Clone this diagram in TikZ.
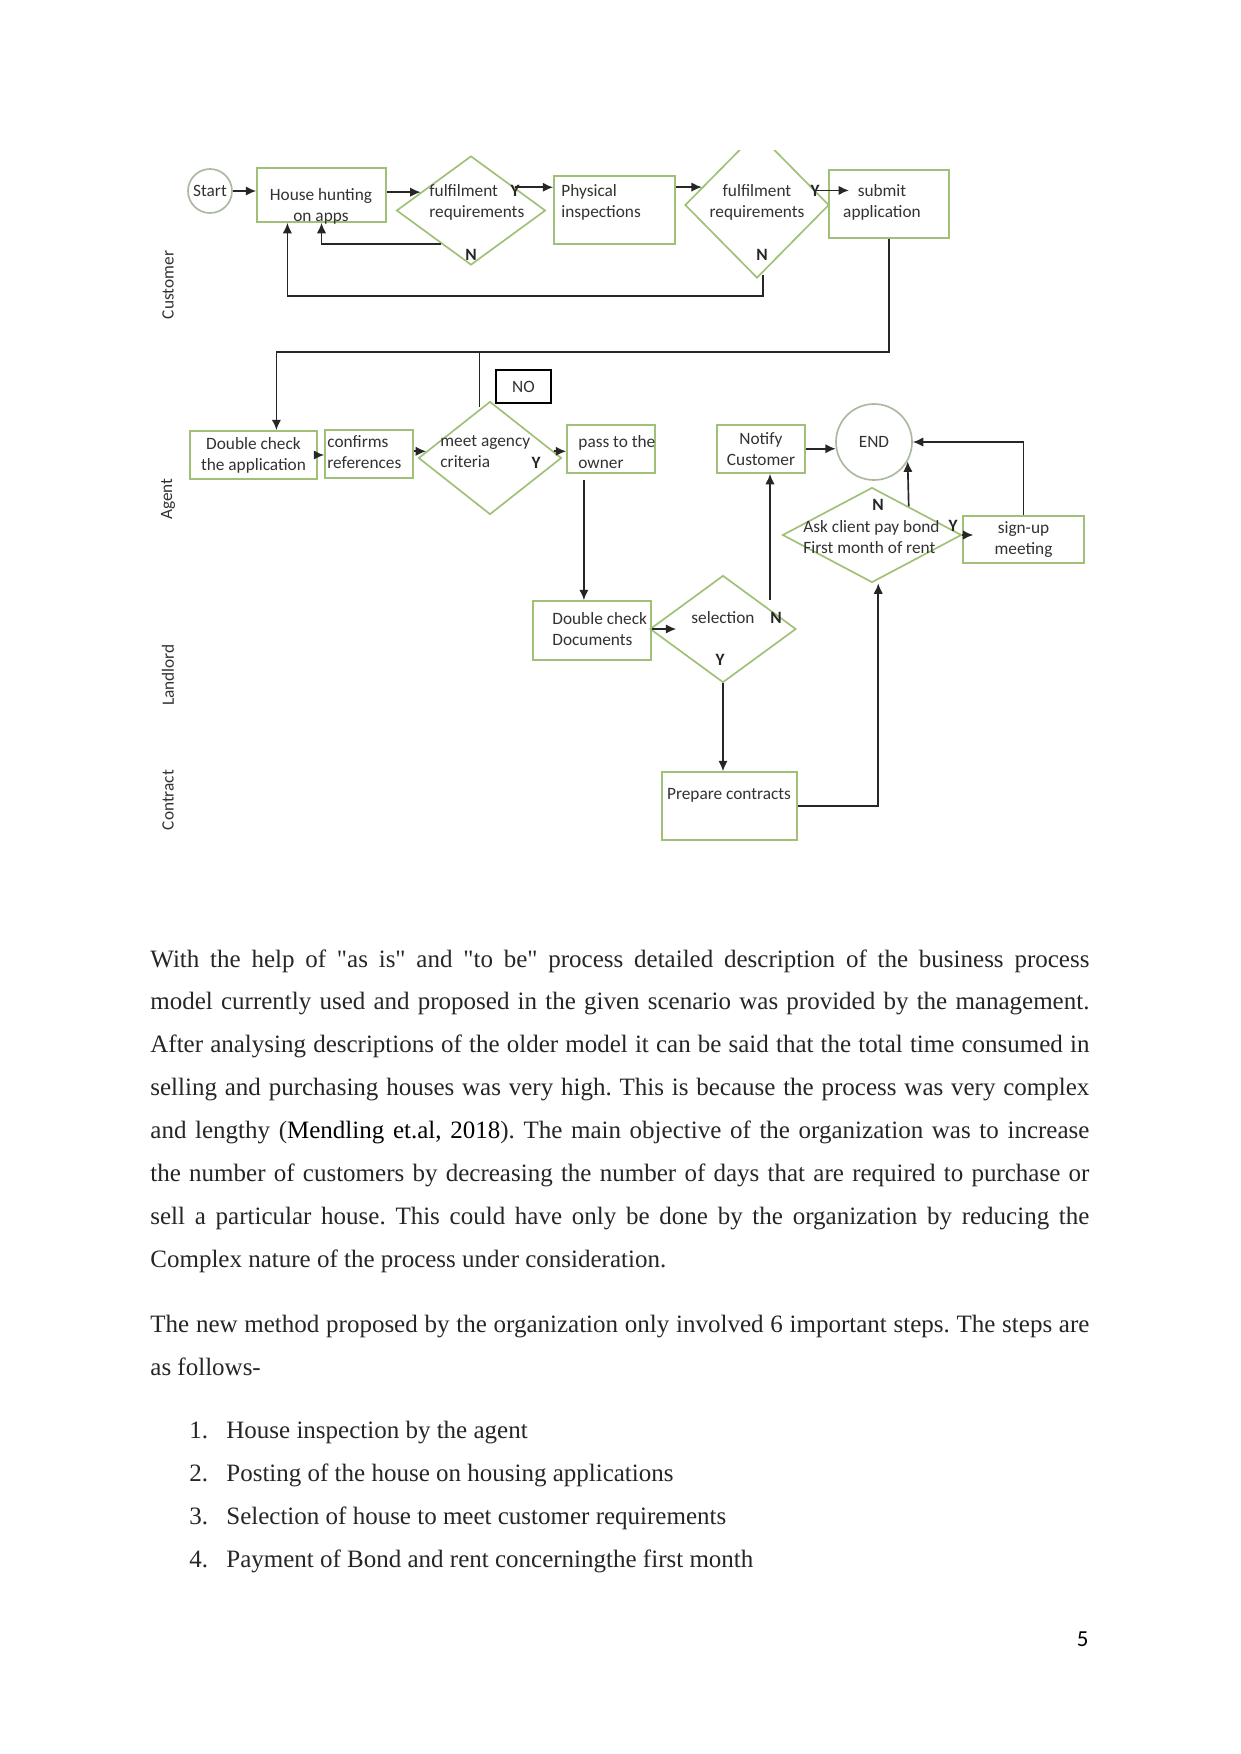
\documentclass[tikz,border=0pt]{standalone}
\usepackage{fontspec}
\setmainfont{Liberation Serif}
\newfontfamily\diagfont{Carlito}
\usetikzlibrary{shapes.geometric,arrows.meta}
\definecolor{boxgreen}{RGB}{160,192,120}
\definecolor{ringgray}{RGB}{170,185,160}
\definecolor{labelgray}{RGB}{50,50,50}
\newlength{\pxl}
\setlength{\pxl}{0.48pt}
\frenchspacing

\begin{document}
\begin{tikzpicture}[x=0.48pt, y=-0.48pt,
  txt/.style={font=\diagfont\fontsize{8.3}{10}\selectfont, text=labelgray, inner sep=0, align=center},
  yn/.style={font=\diagfont\bfseries\fontsize{8.3}{10}\selectfont, text=black!85, inner sep=0},
  pbox/.style 2 args={draw=boxgreen, line width=0.8pt, inner sep=0, minimum width=#1\pxl, minimum height=#2\pxl, txt},
  dec/.style 2 args={diamond, draw=boxgreen, line width=0.8pt, inner sep=0, minimum width=#1\pxl, minimum height=#2\pxl},
  ring/.style={circle, draw=ringgray, line width=0.8pt, inner sep=0, minimum size=#1\pxl, txt},
  lane/.style={txt, rotate=90},
  arr/.style={-{Latex[length=5pt,width=4.5pt]}, line width=0.8pt, black!85},
  bodytext/.style={font=\fontsize{12}{20.6}\selectfont, text=black!85, inner sep=0}]
  \fill[white] (0,0) rectangle (1241,1754);
  \useasboundingbox (0,0) rectangle (1241,1754);

  \node[lane] (lcust) at (168,285) {Customer};
  \node[lane] (lagent) at (168,499) {Agent};
  \node[lane] (lland) at (168,675) {Landlord};
  \node[lane] (lcontr) at (168,800) {Contract};

  \node[ring=44] (start) at (210,191) {Start};
  \node[pbox={129}{54}] (hunt) at (321.5,195) {};
  \node[txt] (huntt) at (321,206) {House hunting\\on apps};
  \node[dec={149}{109}] (d1) at (471,210.5) {};
  \node[txt, align=left, anchor=west] (d1t) at (429,202) {fulfilment\\requirements};
  \node[yn] (d1y) at (515,191) {Y};
  \node[yn] (d1n) at (471,255) {N};
  \node[pbox={121}{68}] (phys) at (614.5,210) {};
  \node[txt, align=left, anchor=west] (physt) at (561,202) {Physical\\inspections};
  \begin{scope}
    \clip (600,150) rectangle (900,300);
    \node[dec={144}{146}] (d2) at (757,205) {};
  \end{scope}
  \node[txt] (d2t) at (757,202) {fulfilment\\requirements};
  \node[yn] (d2y) at (815,191) {Y};
  \node[yn] (d2n) at (762,255) {N};
  \node[pbox={120}{68}] (submit) at (889,204) {};
  \node[txt] (submitt) at (882,202) {submit\\application};
  \coordinate (subin) at ([xshift=10pt]submit.west);

  \node[pbox={127}{48}] (dcheck) at (253.5,455) {Double check\\the application};
  \node[pbox={88}{48}] (confirm) at (369,454) {};
  \node[txt, align=left, anchor=west] (confirmt) at (327,452) {confirms\\references};
  \node[dec={143}{113}] (d3) at (490,458) {};
  \node[txt, align=left, anchor=west] (d3t) at (440,452) {meet agency\\criteria};
  \node[yn] (d3y) at (536,463) {Y};
  \node[draw=black, line width=0.8pt, minimum width=55\pxl, minimum height=33\pxl, txt] (nobox) at (523.5,386.5) {NO};
  \node[pbox={88}{48}] (pass) at (611,449) {};
  \node[txt, align=left, anchor=west] (passt) at (578,452) {pass to the\\owner};
  \node[pbox={88}{48}] (notify) at (761,449) {Notify\\Customer};
  \node[ring=76] (endc) at (874,442) {END};
  \node[dec={179}{95}] (ask) at (872,535) {};
  \node[txt, align=left, anchor=west] (askt) at (803,537) {Ask client pay bond\\First month of rent};
  \node[yn] (askn) at (878,505) {N};
  \node[yn] (asky) at (953,526) {Y};
  \node[pbox={121}{47}] (signup) at (1023.5,539.5) {sign-up\\meeting};

  \node[pbox={118}{59}] (dcd) at (592,630.5) {};
  \node[txt, align=left, anchor=west] (dcdt) at (552,629) {Double check\\Documents};
  \node[dec={146}{107}] (sel) at (723,629) {};
  \node[txt] (selt) at (723,618) {selection};
  \node[yn] (seln) at (776,618) {N};
  \node[yn] (sely) at (720,660) {Y};
  \coordinate (nstart) at (770,600);

  \node[pbox={135}{68}] (prep) at (729.5,806) {};
  \node[txt] (prept) at (729,795) {Prepare contracts};

  \draw[arr] (start.east) -- (start.east -| hunt.west);
  \draw[arr] (d1.160 -| hunt.east) -- (d1.160);
  \draw[arr] (d1.28) -- (d1.28 -| phys.west);
  \draw[arr] (d2.162 -| phys.east) -- (d2.162);
  \draw[arr] (d2.14) -- (d2.14 -| subin);
  \draw[arr] (d1.228) -| (hunt.south);
  \draw[arr] ([xshift=3pt,yshift=2pt]d2.south) -- ++(0,21) -| ([xshift=15pt]hunt.south west);
  \draw[arr] (submit.south) -- ++(0,113) -| ([xshift=11pt]dcheck.north);
  \draw[line width=0.8pt, black!85] ([xshift=-5pt,yshift=-3pt]d3.north) -- ++(0,-56);
  \draw[arr] (dcheck.east) -- (dcheck.east -| confirm.west);
  \draw[arr] (d3.174 -| confirm.east) -- (d3.174);
  \draw[arr] (d3.6) -- (d3.6 -| pass.west);
  \draw[arr] ([xshift=-13pt,yshift=-3pt]pass.south) coordinate (pdown) -- (pdown |- dcd.north);
  \draw[arr] (sel.west -| dcd.east) -- ([xshift=13pt]sel.west);
  \draw[arr] (nstart) -- (nstart |- notify.south);
  \draw[arr] (endc.190 -| notify.east) -- (endc.190);
  \draw[arr] (sel.south) -- (sel.south |- prep.north);
  \draw[arr] (prep.east) -| ([xshift=3pt]ask.south);
  \draw[arr] (ask.38) -- (endc.-30);
  \draw[arr] (ask.east) -- ++(11,0);
  \draw[arr] (signup.north) |- (endc.east);

  \node[bodytext, text width=939\pxl, align=justify, anchor=north west] (para1) at (150,949)
    {With the help of \textquotedbl as is\textquotedbl{} and \textquotedbl to be\textquotedbl{} process detailed description of the business process\linebreak
     model currently used and proposed in the given scenario was provided by the management.\linebreak
     After analysing descriptions of the older model it can be said that the total time consumed in\linebreak
     selling and purchasing houses was very high. This is because the process was very complex\linebreak
     and lengthy (\textcolor{black}{Mendling et.al, 2018}). The main objective of the organization was to increase\linebreak
     the number of customers by decreasing the number of days that are required to purchase or\linebreak
     sell a particular house. This could have only be done by the organization by reducing the\linebreak
     Complex nature of the process under consideration.};
  \node[bodytext, text width=939\pxl, align=justify, anchor=north west] (para2) at (150,1315)
    {The new method proposed by the organization only involved 6 important steps. The steps are\linebreak
     as follows-};
  \node[bodytext, anchor=base west] (item1) at (189,1438) {\makebox[37\pxl][l]{1.}House inspection by the agent};
  \node[bodytext, anchor=base west] (item2) at (189,1481) {\makebox[37\pxl][l]{2.}Posting of the house on housing applications};
  \node[bodytext, anchor=base west] (item3) at (189,1524) {\makebox[37\pxl][l]{3.}Selection of house to meet customer requirements};
  \node[bodytext, anchor=base west] (item4) at (189,1567) {\makebox[37\pxl][l]{4.}Payment of Bond and rent concerningthe first month};
  \node[font=\diagfont\fontsize{11}{13}\selectfont, inner sep=0, anchor=base east] (pagenum) at (1089,1646) {5};
\end{tikzpicture}
\end{document}
